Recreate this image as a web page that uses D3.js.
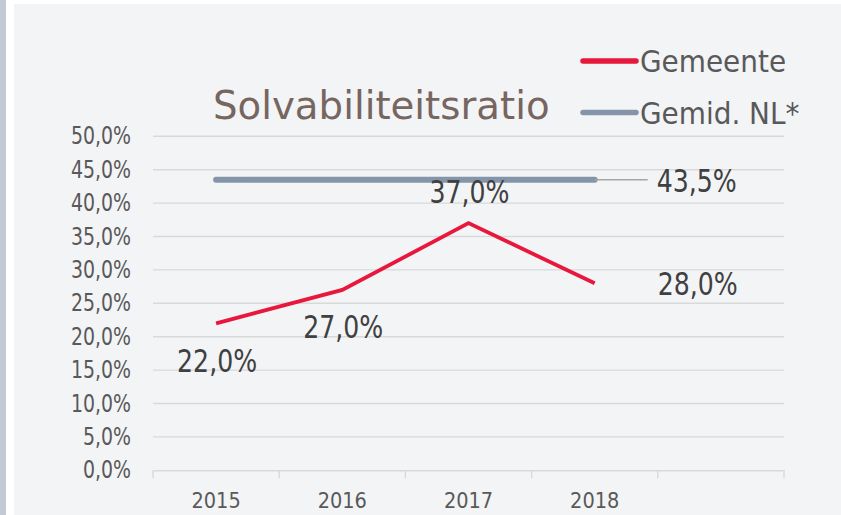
<!DOCTYPE html>
<html>
<head>
<meta charset="utf-8">
<script src="https://cdn.jsdelivr.net/npm/d3@7"></script>
<style>
  html, body { margin: 0; padding: 0; background: #ffffff; }
  svg { display: block; }
</style>
</head>
<body>
<svg id="chart" width="841" height="515"></svg>
<script>
const categories = ["2015", "2016", "2017", "2018", ""];
const years = ["2015", "2016", "2017", "2018"];
const gemeente = [22.0, 27.0, 37.0, 28.0];
const gemidNL = [43.5, 43.5, 43.5, 43.5];
const yTicks = [0, 5, 10, 15, 20, 25, 30, 35, 40, 45, 50];
const labelPos = ["below", "below", "above", "right"];
const title = "Solvabiliteitsratio";
const seriesNames = ["Gemeente", "Gemid. NL*"];

const fmt = v => d3.format(".1f")(v).replace(".", ",") + "%";
const RED = "#e8183d", GREY = "#8495aa";
const COND = "'DejaVu Sans Condensed', 'DejaVu Sans', sans-serif";

const svg = d3.select("#chart");
// background panels
svg.append("rect").attr("x", 0).attr("y", 0).attr("width", 6).attr("height", 515).attr("fill", "#c2cad5");
svg.append("rect").attr("x", 14).attr("y", 4).attr("width", 827).attr("height", 511).attr("fill", "#f3f4f6");

const x = d3.scaleBand().domain(categories).range([153, 784]).paddingInner(0).paddingOuter(0);
const y = d3.scaleLinear().domain([0, 50]).range([470.3, 136.3]);
const cx = c => x(c) + x.bandwidth() / 2;

// gridlines
svg.append("g").selectAll("line").data(yTicks.filter(t => t > 0)).join("line")
  .attr("x1", 153).attr("x2", 784)
  .attr("y1", d => y(d)).attr("y2", d => y(d))
  .attr("stroke", "#d9d9d9").attr("stroke-width", 1.4);

// x axis
const xAxis = d3.axisBottom(x).tickSize(0).tickFormat(d => d);
const gx = svg.append("g").attr("transform", `translate(0,${y(0)})`).call(xAxis);
gx.select(".domain").attr("stroke", "#d9d9d9").attr("stroke-width", 1.4);
gx.selectAll(".tick text").attr("font-family", COND).attr("font-size", 21.5)
  .attr("fill", "#595959").attr("dy", null).attr("y", 37.5);
// category boundary ticks
const bounds = categories.map(c => x(c)).concat([x.range()[1]]);
svg.append("g").selectAll("line").data(bounds).join("line")
  .attr("x1", d => d).attr("x2", d => d)
  .attr("y1", y(0)).attr("y2", y(0) + 8)
  .attr("stroke", "#d9d9d9").attr("stroke-width", 1.4);

// y axis
const yAxis = d3.axisLeft(y).tickValues(yTicks).tickSize(0).tickFormat(fmt);
const gy = svg.append("g").attr("transform", `translate(131,0)`).call(yAxis);
gy.select(".domain").remove();
gy.selectAll(".tick text").attr("x", 0).attr("dy", null)
  .attr("font-family", COND).attr("font-size", 21)
  .attr("fill", "#595959")
  .attr("transform", "translate(0,7.6) scale(1,1.16)");

// Gemid NL line
const line = d3.line().x((d, i) => cx(years[i])).y(d => y(d));
svg.append("path").datum(gemidNL).attr("d", line)
  .attr("fill", "none").attr("stroke", GREY).attr("stroke-width", 6).attr("stroke-linecap", "round");

// leader + label for Gemid NL last value
const lastX = cx(years[years.length - 1]), lastY = y(gemidNL[gemidNL.length - 1]);
svg.append("line").attr("x1", lastX).attr("x2", lastX + 53).attr("y1", lastY).attr("y2", lastY)
  .attr("stroke", "#a6a6a6").attr("stroke-width", 1.5);
svg.append("text").text(fmt(gemidNL[gemidNL.length - 1]))
  .attr("transform", `translate(${lastX + 62},${lastY + 12}) scale(1,1.14)`)
  .attr("font-family", COND).attr("font-size", 28).attr("fill", "#404040");

// Gemeente line
svg.append("path").datum(gemeente).attr("d", line)
  .attr("fill", "none").attr("stroke", RED).attr("stroke-width", 3.8).attr("stroke-linejoin", "miter");

// data labels
svg.append("g").selectAll("text").data(gemeente).join("text")
  .text(d => fmt(d))
  .attr("font-family", COND).attr("font-size", 28).attr("fill", "#404040")
  .attr("text-anchor", (d, i) => labelPos[i] === "right" ? "start" : "middle")
  .attr("transform", (d, i) => {
    const px = cx(years[i]), py = y(d);
    let tx = px + 1, ty = py;
    if (labelPos[i] === "below") ty = py + 48.5;
    else if (labelPos[i] === "above") ty = py - 20;
    else { tx = px + 63; ty = py + 11.5; }
    return `translate(${tx},${ty}) scale(1,1.14)`;
  });

// title
svg.append("text").text(title)
  .attr("x", 213).attr("y", 118.5)
  .attr("font-family", "'DejaVu Sans', sans-serif").attr("font-size", 38.7)
  .attr("fill", "#76665f");

// legend
const legend = svg.append("g");
const legY = [61, 112.5];
const legColors = [RED, GREY];
seriesNames.forEach((name, i) => {
  legend.append("line").attr("x1", 583).attr("x2", 636).attr("y1", legY[i]).attr("y2", legY[i])
    .attr("stroke", legColors[i]).attr("stroke-width", 5.5).attr("stroke-linecap", "round");
  legend.append("text").text(name).attr("x", 640).attr("y", legY[i] + 11)
    .attr("font-family", COND).attr("font-size", 31).attr("fill", "#595959");
});
</script>
</body>
</html>
